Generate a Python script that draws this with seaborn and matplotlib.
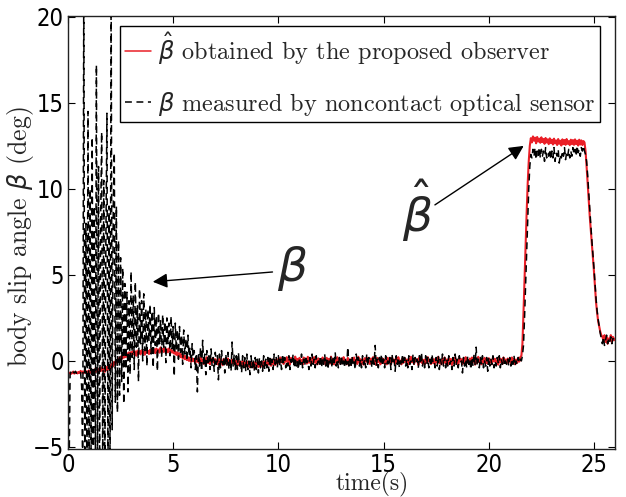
import numpy as np
import pandas as pd
import matplotlib
matplotlib.use("Agg")
import matplotlib.pyplot as plt
from matplotlib import font_manager
import seaborn as sns

# ---------------- data ----------------
sample_step = 0.05  # s
beta_hat = [
    -0.65,-0.72,-0.68,-0.75,-0.70,-0.62,-0.74,-0.69,-0.66,-0.73,-0.64,-0.70,-0.58,-0.68,-0.61,-0.72,-0.57,-0.66,-0.60,-0.69,
    -0.55,-0.70,-0.48,-0.66,-0.52,-0.72,-0.45,-0.62,-0.50,-0.68,-0.42,-0.60,-0.38,-0.58,-0.47,-0.64,-0.35,-0.55,-0.30,-0.50,
    -0.25,-0.42,-0.15,-0.30,-0.05,-0.20,0.05,-0.08,0.15,0.02,0.25,0.10,0.32,0.18,0.40,0.22,0.45,0.28,0.50,0.32,
    0.52,0.35,0.58,0.40,0.55,0.30,0.60,0.42,0.57,0.38,0.62,0.45,0.55,0.36,0.63,0.48,0.58,0.40,0.65,0.47,
    0.60,0.50,0.68,0.45,0.72,0.55,0.66,0.48,0.78,0.58,0.70,0.52,0.75,0.60,0.68,0.50,0.73,0.55,0.65,0.48,
    0.60,0.42,0.55,0.35,0.50,0.28,0.45,0.22,0.38,0.15,0.32,0.10,0.28,0.05,0.22,0.00,0.18,-0.05,0.15,-0.02,
    0.12,-0.10,0.18,-0.05,0.10,-0.15,0.20,-0.02,0.08,-0.18,0.15,-0.08,0.22,-0.12,0.05,-0.20,0.12,-0.05,0.18,-0.10,
    0.10,-0.18,0.05,-0.22,0.15,-0.10,0.02,-0.25,0.12,-0.08,0.06,-0.20,0.14,-0.15,0.00,-0.22,0.08,-0.12,0.03,-0.25,
    0.02,-0.28,0.05,-0.20,-0.05,-0.32,0.00,-0.25,-0.08,-0.35,-0.02,-0.30,-0.10,-0.38,-0.05,-0.28,-0.12,-0.40,-0.06,-0.33,
    -0.10,-0.36,-0.04,-0.30,-0.12,-0.35,0.00,-0.25,-0.08,-0.30,0.05,-0.22,-0.02,-0.28,0.08,-0.18,0.02,-0.24,0.10,-0.15,
    0.12,-0.12,0.20,-0.08,0.05,-0.18,0.15,-0.05,0.22,-0.10,0.08,-0.20,0.18,-0.02,0.10,-0.15,0.25,-0.06,0.12,-0.12,
    0.18,-0.08,0.05,-0.22,0.20,-0.04,0.14,-0.16,0.24,-0.10,0.02,-0.18,0.16,-0.06,0.22,-0.12,0.08,-0.20,0.15,-0.02,
    0.10,-0.14,0.20,-0.06,0.04,-0.24,0.18,-0.08,0.12,-0.16,0.25,-0.04,0.06,-0.20,0.16,-0.10,0.22,-0.02,0.08,-0.18,
    0.14,-0.06,0.22,-0.14,0.02,-0.20,0.18,-0.10,0.08,-0.24,0.16,-0.04,0.20,-0.12,0.06,-0.18,0.24,-0.08,0.10,-0.16,
    0.06,-0.22,0.16,-0.04,0.20,-0.12,0.04,-0.18,0.14,-0.08,0.22,-0.14,0.02,-0.24,0.18,-0.06,0.10,-0.20,0.16,-0.02,
    0.12,-0.16,0.04,-0.20,0.18,-0.08,0.10,-0.22,0.20,-0.04,0.08,-0.18,0.14,-0.12,0.22,-0.06,0.02,-0.20,0.16,-0.10,
    0.18,-0.04,0.08,-0.22,0.14,-0.12,0.24,-0.08,0.04,-0.18,0.16,-0.02,0.10,-0.24,0.20,-0.06,0.12,-0.16,0.06,-0.20,
    0.14,-0.10,0.22,-0.02,0.06,-0.18,0.18,-0.12,0.10,-0.22,0.16,-0.06,0.24,-0.14,0.02,-0.20,0.12,-0.08,0.20,-0.16,
    0.08,-0.20,0.16,-0.06,0.12,-0.24,0.04,-0.14,0.20,-0.10,0.06,-0.22,0.18,-0.04,0.10,-0.18,0.14,-0.12,0.22,-0.08,
    0.02,-0.18,0.14,-0.10,0.20,-0.04,0.08,-0.22,0.16,-0.12,0.24,-0.06,0.04,-0.20,0.12,-0.08,0.18,-0.14,0.06,-0.16,
    0.16,-0.10,0.06,-0.20,0.22,-0.02,0.12,-0.16,0.04,-0.22,0.18,-0.08,0.10,-0.18,0.20,-0.06,0.08,-0.14,0.14,-0.04,
    0.10,-0.16,0.20,-0.06,0.12,-0.20,0.08,-0.12,0.18,-0.04,0.22,0.30,1.0,2.8,4.8,6.8,8.6,10.3,11.6,12.5,
    12.95,12.70,13.05,12.80,12.98,12.65,13.02,12.75,12.92,12.68,13.00,12.72,12.90,12.62,12.96,12.70,12.88,12.60,12.94,12.66,
    12.86,12.58,12.92,12.64,12.82,12.55,12.90,12.62,12.80,12.52,12.88,12.60,12.84,12.56,12.90,12.62,12.78,12.54,12.86,12.60,
    12.84,12.56,12.88,12.60,12.80,12.52,12.86,12.58,12.82,12.55,12.78,12.70,12.2,11.3,10.3,9.2,8.4,7.6,6.8,6.0,
    5.2,4.3,3.4,2.8,2.3,2.0,1.7,1.5,1.4,1.2,1.5,1.1,1.4,1.0,1.3,1.2,1.5,1.1,1.4,1.2,
    1.3,
]
beta_meas = [
    2.0,-6.5,-0.8,-0.6,-0.75,-0.65,-0.7,-0.6,-0.72,-0.66,-0.7,-0.62,-0.68,-1.5,-6.5,22,-6.5,8,-6.5,14.5,
    -6.5,10,-6.5,13,-6,9,-6.5,17.2,-6,11.3,-6.5,8,13.3,-6.5,10.5,-6,7,14.4,-6.5,9,
    -6.5,22,-4,9,12.1,-2.4,9,-3,7,-2.0,6,-1.2,5.4,-2.5,4.5,-0.5,4.0,-1.8,3.5,-0.8,
    5.2,0.2,3.8,-0.5,4.6,0.8,3.2,-1.2,4.2,1.0,3.5,0.0,3.9,0.6,3.0,-0.3,3.0,1.2,3.3,0.4,
    2.9,-0.4,3.1,0.9,2.6,-0.6,2.8,1.0,2.4,0.2,2.7,0.8,2.3,-0.1,2.5,1.0,2.2,0.3,2.6,0.7,
    2.0,-0.9,2.2,0.6,1.8,0.1,2.0,0.5,1.5,-0.2,1.8,0.4,1.3,0.0,1.5,0.3,0.8,-0.4,1.0,0.2,
    0.6,-0.5,0.3,-1.8,0.5,-0.3,0.8,-0.6,1.2,-0.2,0.4,-0.8,0.6,-0.1,0.3,-0.5,0.7,-0.3,0.2,-0.6,
    0.5,-0.2,0.3,-1.1,0.4,-0.4,0.6,-0.2,0.2,-0.7,0.4,-0.3,0.5,-0.5,0.2,-0.6,1.1,-0.3,0.4,-0.5,
    0.3,-0.5,0.5,-0.3,0.1,-0.7,0.3,-0.4,0.2,-0.6,0.4,-0.5,0.0,-0.8,0.3,-0.4,0.1,-0.6,0.2,-0.5,
    0.1,-0.7,0.2,-0.4,0.0,-0.6,0.3,-0.5,0.1,-0.4,0.2,-0.6,0.3,-0.3,0.1,-0.5,0.4,-0.2,0.2,-0.4,
    0.3,-0.3,0.1,-0.5,0.4,-0.2,0.2,-0.4,0.0,-0.3,0.3,-0.5,0.1,-0.2,0.4,-0.4,0.2,-0.3,0.0,-0.5,
    0.2,-0.2,0.4,-0.4,0.1,-0.3,0.3,-0.1,0.0,-0.5,0.2,-0.3,0.4,-0.2,0.1,-0.4,0.3,-0.2,0.0,-0.3,
    0.3,-0.4,0.1,-0.2,0.4,-0.3,0.2,-0.5,0.0,-0.2,0.3,-0.4,0.2,-0.1,0.5,-0.3,0.1,-0.4,0.2,-0.2,
    0.3,-0.3,0.0,-0.4,0.2,-0.2,0.8,-0.3,0.1,-0.4,0.3,-0.2,0.0,-0.5,0.4,-0.1,0.2,-0.3,0.1,-0.4,
    0.3,-0.2,0.1,-0.4,0.4,-0.3,0.2,-0.1,0.0,-0.4,0.3,-0.2,0.9,-0.3,0.1,-0.4,0.2,-0.2,0.4,-0.3,
    0.1,-0.4,0.3,-0.2,0.0,-0.3,0.2,-0.5,0.4,-0.1,0.1,-0.6,0.3,-0.2,0.2,-0.4,0.0,-0.3,0.4,-0.2,
    0.2,-0.3,0.1,-0.4,0.3,-0.2,0.0,-0.5,0.4,-0.3,0.2,-0.1,0.1,-0.4,0.3,-0.2,0.5,-0.3,0.0,-0.4,
    0.3,-0.2,0.2,-0.4,0.1,-0.3,0.4,-0.1,0.0,-0.4,0.2,-0.3,0.3,-0.5,0.1,-0.2,0.4,-0.3,0.2,-0.4,
    0.1,-0.3,0.3,-0.2,0.0,-0.5,0.2,-0.3,0.4,-0.2,0.1,-0.4,0.3,-0.1,0.0,-0.7,0.2,-0.3,0.1,-0.4,
    0.3,-0.2,0.1,-0.5,0.2,-0.3,0.4,-0.2,0.8,-0.3,0.1,-0.4,0.2,-0.2,0.3,-0.4,0.0,-0.3,0.2,-0.6,
    0.2,-0.3,0.1,-0.2,0.3,-0.4,0.0,-0.3,0.2,-0.1,0.3,-0.4,0.1,-0.2,0.2,-0.3,0.0,-0.2,0.1,-0.3,
    0.2,-0.3,0.1,-0.2,0.3,-0.3,0.0,-0.2,0.2,-0.1,0.1,0.0,0.3,0.9,2.5,4.4,6.4,8.3,10.0,11.3,
    12.0,11.8,12.3,11.9,12.4,11.7,12.2,11.9,12.4,11.8,12.3,11.9,12.2,11.6,12.4,11.8,12.1,11.9,12.3,11.7,
    12.2,11.8,12.4,11.6,12.1,11.9,12.3,11.5,12.0,11.8,12.2,11.9,12.4,11.7,12.1,11.9,12.3,11.8,12.2,11.9,
    12.4,12.0,12.3,11.9,12.5,12.1,12.3,11.9,12.4,12.2,12.5,12.2,12.0,11.6,10.8,9.8,8.8,7.9,7.0,6.2,
    5.4,4.5,3.6,2.9,2.4,2.0,1.6,1.3,1.0,1.4,0.9,1.2,1.5,1.0,1.3,1.1,1.4,1.0,1.3,1.2,
    1.2,
]
x_ticks = [0, 5, 10, 15, 20, 25]
y_ticks = [-5, 0, 5, 10, 15, 20]
label_hat = r"$\hat{\beta}$ obtained by the proposed observer"
label_meas = r"$\beta$ measured by noncontact optical sensor"

n = min(len(beta_hat), len(beta_meas))
time = np.round(np.arange(n) * sample_step, 3)
df = pd.DataFrame({"time": time, "hat": beta_hat[:n], "meas": beta_meas[:n]})

# ---------------- style ----------------
sns.set_style("ticks")
ttf = font_manager.fontManager.ttflist
avail = {f.name for f in ttf}

# look for a narrow / condensed sans face for the tick numbers
tick_fp = None
for key in ["LiberationSansNarrow-Regular", "DejaVuSansCondensed.ttf", "Condensed-Regular", "Narrow"]:
    for f in ttf:
        base = f.fname.split("/")[-1]
        if key in base and "Bold" not in base and "Oblique" not in base and "Italic" not in base:
            tick_fp = font_manager.FontProperties(fname=f.fname, size=17)
            break
    if tick_fp is not None:
        break
if tick_fp is None:
    tick_fp = font_manager.FontProperties(family="Liberation Sans", size=16)

serif_font = "cmr10" if "cmr10" in avail else "DejaVu Serif"
plt.rcParams["font.family"] = ["Liberation Sans", "DejaVu Sans"]
plt.rcParams["mathtext.fontset"] = "dejavusans"
plt.rcParams["axes.unicode_minus"] = True

fig = plt.figure(figsize=(6.26, 4.97), dpi=100)
ax = fig.add_axes([68 / 626, 1 - 449 / 497, (615 - 68) / 626, (449 - 16) / 497])

sns.lineplot(data=df, x="time", y="hat", ax=ax, color="#ea1f27", lw=1.5,
             estimator=None, sort=False, errorbar=None, label=label_hat)
sns.lineplot(data=df, x="time", y="meas", ax=ax, color="black", lw=1.1,
             estimator=None, sort=False, errorbar=None, label=label_meas)
ax.lines[1].set_dashes([4.5, 3])

ax.set_xlim(0, 26)
ax.set_ylim(-5.12, 20.05)
ax.set_xticks(x_ticks)
ax.set_yticks(y_ticks)
ax.set_xticklabels([str(v) for v in x_ticks], fontproperties=tick_fp)
ax.set_yticklabels([str(v).replace("-", "\u2212") for v in y_ticks], fontproperties=tick_fp)
ax.tick_params(direction="in", length=5, width=0.8, top=True, right=True,
               pad=3, colors="black")
for s in ax.spines.values():
    s.set_visible(True)
    s.set_linewidth(1.0)
    s.set_color("#222222")

ax.set_xlabel("time(s)", family=[serif_font, "DejaVu Serif"], fontsize=17)
ax.xaxis.set_label_coords(0.557, -0.054)
ax.set_ylabel(r"body slip angle $\beta$ (deg)", family=[serif_font, "DejaVu Serif"], fontsize=18.5)
ax.yaxis.set_label_coords(-0.058, 0.491)

leg = ax.legend(loc="upper right", bbox_to_anchor=(0.9726, 0.977), borderaxespad=0,
                prop={"family": [serif_font, "DejaVu Serif"], "size": 17.5},
                frameon=True, fancybox=False, edgecolor="black", framealpha=1,
                handlelength=1.1, handletextpad=0.28, labelspacing=0.95, borderpad=0.18)
leg.get_frame().set_linewidth(1.0)
for h in leg.get_lines():
    h.set_linewidth(1.1)

# annotations
ax.annotate("", xy=(4.03, 4.6), xytext=(9.72, 5.17),
            arrowprops=dict(arrowstyle="-|>", color="black", lw=1.0, mutation_scale=22,
                            shrinkA=0, shrinkB=0))
ax.text(10.67, 5.4, r"$\beta$", fontsize=34, ha="center", va="center")
ax.annotate("", xy=(21.66, 12.5), xytext=(17.44, 9.07),
            arrowprops=dict(arrowstyle="-|>", color="black", lw=1.0, mutation_scale=22,
                            shrinkA=0, shrinkB=0))
ax.text(16.6, 8.7, r"$\hat{\beta}$", fontsize=34, ha="center", va="center")

fig.savefig("out.png", dpi=100)
